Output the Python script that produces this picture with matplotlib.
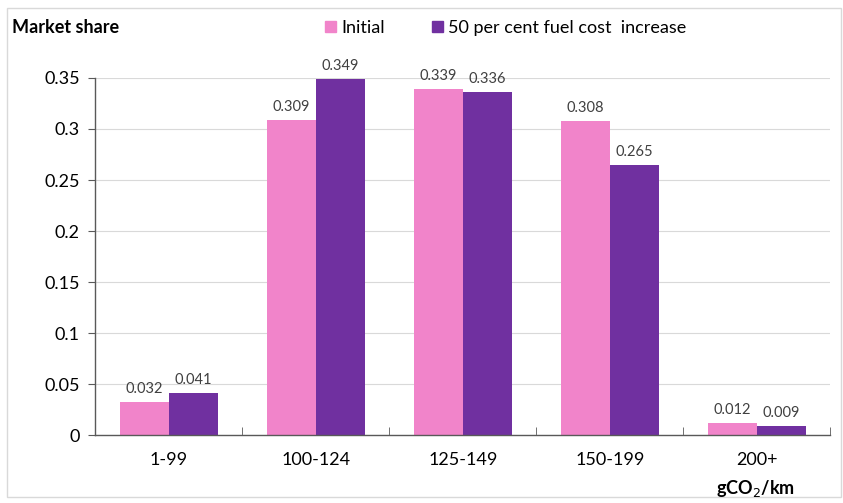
import matplotlib
matplotlib.use("Agg")
import matplotlib.pyplot as plt
import numpy as np
from matplotlib.patches import Rectangle, Patch

categories = ["1-99", "100-124", "125-149", "150-199", "200+"]
initial = [0.032, 0.309, 0.339, 0.308, 0.012]
increase = [0.041, 0.349, 0.336, 0.265, 0.009]
series_names = ["Initial", "50 per cent fuel cost  increase"]
yticks = [0, 0.05, 0.1, 0.15, 0.2, 0.25, 0.3, 0.35]
ytick_labels = ["0", "0.05", "0.1", "0.15", "0.2", "0.25", "0.3", "0.35"]

pink = "#F184CA"
purple = "#7030A0"

plt.rcParams["font.family"] = ["Lato", "DejaVu Sans"]

fig = plt.figure(figsize=(8.43, 5.03), dpi=100)
fig.patch.set_facecolor("white")
fig.add_artist(Rectangle((0.008, 0.012), 0.99, 0.972, transform=fig.transFigure,
                         fill=False, edgecolor="#d9d9d9", linewidth=1.0))

ax = fig.add_axes([0.113, 0.135, 0.872, 0.71])
x = np.arange(len(categories))
w = 0.333
b1 = ax.bar(x - w / 2, initial, w, color=pink, label=series_names[0])
b2 = ax.bar(x + w / 2, increase, w, color=purple, label=series_names[1])

for bars, vals in ((b1, initial), (b2, increase)):
    for r, v in zip(bars, vals):
        ax.text(r.get_x() + r.get_width() / 2, v + 0.006, f"{v:.3f}",
                ha="center", va="bottom", fontsize=10.5, color="#404040")

ax.set_xlim(-0.5, len(categories) - 0.5)
ax.set_ylim(0, 0.35)
ax.set_yticks(yticks)
ax.set_yticklabels(ytick_labels, fontsize=13)
ax.yaxis.grid(True, color="#d9d9d9", linewidth=0.8)
ax.set_axisbelow(True)
ax.set_xticks(x)
ax.set_xticklabels(categories, fontsize=13)
ax.tick_params(axis="x", length=0, pad=12)
ax.tick_params(axis="y", direction="out", length=5, color="#595959", pad=6)
ax.set_xticks(np.arange(-0.5, len(categories)), minor=True)
ax.tick_params(axis="x", which="minor", direction="in", length=6, color="#595959")
for s in ("top", "right"):
    ax.spines[s].set_visible(False)
for s in ("left", "bottom"):
    ax.spines[s].set_color("#595959")
    ax.spines[s].set_linewidth(1.0)

fig.text(0.014, 0.945, "Market share", fontsize=13, fontweight="bold", ha="left", va="center")
fig.text(0.896, 0.028, "gCO$_2$/km", fontsize=13, fontweight="bold", ha="center", va="center")

handles = [Patch(color=pink), Patch(color=purple)]
fig.legend(handles, series_names, loc="center", bbox_to_anchor=(0.6, 0.945), ncol=2,
           frameon=False, fontsize=13, handlelength=0.6, handleheight=0.6,
           handletextpad=0.3, columnspacing=2.6)

fig.savefig("out.png", dpi=100)
